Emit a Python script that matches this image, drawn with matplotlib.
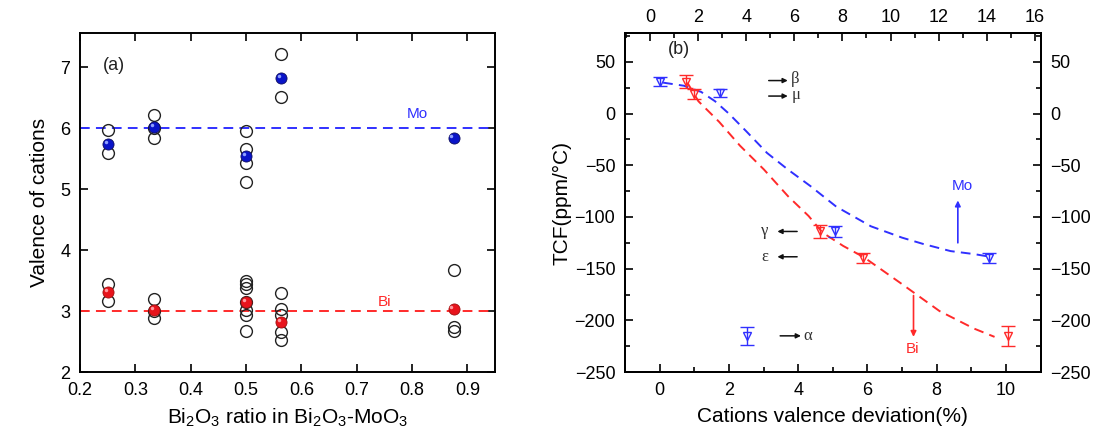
import matplotlib
matplotlib.use("Agg")
import matplotlib.pyplot as plt
from matplotlib.ticker import MultipleLocator
from matplotlib.transforms import offset_copy

plt.rcParams['font.family'] = ['Liberation Sans', 'DejaVu Sans']
plt.rcParams['mathtext.default'] = 'regular'

# ---------------- panel (a): cation valence vs Bi2O3 ratio ----------------
ratio = [0.25, 0.333, 0.5, 0.5625, 0.875]

mo_open = [[5.97, 5.60],
           [6.21, 6.00, 5.83],
           [5.95, 5.66, 5.42, 5.11],
           [7.21, 6.51],
           []]
mo_mean = [5.74, 6.02, 5.54, 6.82, 5.83]

bi_open = [[3.45, 3.17],
           [3.19, 3.00, 2.89],
           [3.50, 3.45, 3.37, 3.15, 3.01, 2.93, 2.67],
           [3.29, 3.03, 2.94, 2.65, 2.52],
           [3.68, 2.74, 2.68]]
bi_mean = [3.31, 3.02, 3.15, 2.82, 3.03]

mo_nominal = 6.0
bi_nominal = 3.0

# ---------------- panel (b): TCF vs valence deviation ----------------
mo_dev = [0.0, 1.75, 5.07, 9.5, 2.52]
mo_tcf = [31, 20, -114, -140, -215]
mo_err = [4, 4, 5, 5, 9]

bi_dev = [0.77, 1.0, 4.62, 5.87, 10.05]
bi_tcf = [31, 19, -114, -140, -215]
bi_err = [6, 5, 6, 5, 10]

mo_fit_x = [0.1, 0.7, 1.2, 1.6, 2.0, 2.5, 3.1, 3.7, 4.35, 5.1, 6.1, 7.0, 7.6, 8.4, 9.1, 9.45]
mo_fit_y = [30, 27, 21, 12, 0, -17, -38, -54, -70, -90, -109, -120, -126, -133, -136, -138]

bi_fit_x = [0.8, 1.12, 1.72, 2.32, 3.01, 3.71, 4.3, 4.7, 5.3, 5.9, 7.0, 8.08, 9.08, 9.67]
bi_fit_y = [30, 12, -8, -31, -54, -80, -99, -115, -128, -139, -165, -191, -208, -216]

phase_labels = ['β', 'μ', 'γ', 'ε', 'α']

BLUE = '#3030ff'
RED = '#ff2a2a'
BLUE_DOT = '#0a14c8'
RED_DOT = '#e8141c'

fig = plt.figure(figsize=(11.04, 4.45), dpi=100)
axa = fig.add_axes([0.0725, 0.164, 0.3759, 0.7618])
axb = fig.add_axes([0.5661, 0.164, 0.3765, 0.7618])

TICKFS = 13
LABELFS = 15

def frame(ax):
    for s in ax.spines.values():
        s.set_linewidth(1.4)

# ---- (a)
axa.axhline(mo_nominal, color=BLUE, lw=1.4, dashes=(5, 3.2))
axa.axhline(bi_nominal, color=RED, lw=1.4, dashes=(5, 3.2))

for x, vals in zip(ratio, mo_open):
    axa.plot([x] * len(vals), vals, 'o', ms=8.5, mfc='none', mec='#222222', mew=1.0, ls='none')
for x, vals in zip(ratio, bi_open):
    axa.plot([x] * len(vals), vals, 'o', ms=8.5, mfc='none', mec='#222222', mew=1.0, ls='none')

axa.plot(ratio, mo_mean, 'o', ms=8, color=BLUE_DOT, mec='#101060', mew=0.6, ls='none')
axa.plot(ratio, bi_mean, 'o', ms=8, color=RED_DOT, mec='#a01010', mew=0.6, ls='none')
# small highlight on the filled averages
hl = offset_copy(axa.transData, fig=fig, x=-1.5, y=1.5, units='points')
axa.plot(ratio, mo_mean, 'o', ms=2.5, color='#8fa0ff', mec='none', ls='none', transform=hl)
axa.plot(ratio, bi_mean, 'o', ms=2.5, color='#ff9aa0', mec='none', ls='none', transform=hl)

axa.set_xlim(0.2, 0.95)
axa.set_ylim(2, 7.56)
axa.xaxis.set_major_locator(MultipleLocator(0.1))
axa.yaxis.set_major_locator(MultipleLocator(1))
axa.tick_params(direction='in', top=True, right=True, length=5.5, width=1.2,
                labelsize=TICKFS, pad=7)
axa.set_xlabel('Bi$_2$O$_3$ ratio in Bi$_2$O$_3$-MoO$_3$', fontsize=LABELFS, labelpad=6)
axa.set_ylabel('Valence of cations', fontsize=LABELFS, labelpad=8)
axa.text(0.262, 7.03, '(a)', fontsize=13, ha='center', va='center', color='#222222')
axa.text(0.81, 6.23, 'Mo', fontsize=11, ha='center', va='center', color=BLUE)
axa.text(0.75, 3.15, 'Bi', fontsize=11, ha='center', va='center', color=RED)
frame(axa)

# ---- (b)
axb.plot(mo_fit_x, mo_fit_y, color=BLUE, lw=1.4, dashes=(5, 3.2))
axb.plot(bi_fit_x, bi_fit_y, color=RED, lw=1.4, dashes=(5, 3.2))

axb.errorbar(mo_dev, mo_tcf, yerr=mo_err, fmt='v', ms=5.5, mfc='none', mec=BLUE, mew=1.0,
             ecolor=BLUE, elinewidth=1.0, capsize=5, capthick=1.2, ls='none')
axb.errorbar(bi_dev, bi_tcf, yerr=bi_err, fmt='v', ms=5.5, mfc='none', mec=RED, mew=1.0,
             ecolor=RED, elinewidth=1.0, capsize=5, capthick=1.2, ls='none')

axb.set_xlim(-1, 11)
axb.set_ylim(-250, 78)
axb.xaxis.set_major_locator(MultipleLocator(2))
axb.xaxis.set_minor_locator(MultipleLocator(1))
axb.yaxis.set_major_locator(MultipleLocator(50))
axb.yaxis.set_minor_locator(MultipleLocator(25))
axb.tick_params(which='both', direction='in', right=True, labelright=True, width=1.2,
                labelsize=TICKFS, pad=7)
axb.tick_params(which='major', length=5.5)
axb.tick_params(which='minor', length=3.5)
axb.set_xlabel('Cations valence deviation(%)', fontsize=LABELFS, labelpad=6)
axb.set_ylabel('TCF(ppm/°C)', fontsize=LABELFS, labelpad=2)

top = axb.twiny()
top.set_xlim(-1.04, 16.24)
top.xaxis.set_major_locator(MultipleLocator(2))
top.xaxis.set_minor_locator(MultipleLocator(1))
top.tick_params(which='both', direction='in', width=1.2, labelsize=TICKFS, pad=5)
top.tick_params(which='major', length=5.5)
top.tick_params(which='minor', length=3.5)
frame(top)
frame(axb)

axb.text(0.55, 62, '(b)', fontsize=13, ha='center', va='center', color='#222222')

arrow_k = dict(arrowstyle='-|>', color='#111111', lw=1.1, mutation_scale=7,
               shrinkA=0, shrinkB=0)
serif = dict(family=['Liberation Serif', 'DejaVu Serif'], fontsize=12, color='#333333',
             va='center')
# right-pointing arrows to beta and mu
for lab, y in zip(phase_labels[:2], [32, 17]):
    axb.annotate('', xy=(3.7, y), xytext=(3.15, y), arrowprops=arrow_k)
    axb.text(3.8, y + 1.5, lab, ha='left', **serif)
# gamma and epsilon with left-pointing arrows
for lab, y in zip(phase_labels[2:4], [-114, -138.5]):
    axb.annotate('', xy=(3.4, y), xytext=(3.97, y), arrowprops=arrow_k)
    axb.text(3.15, y, lab, ha='right', **serif)
# alpha
axb.annotate('', xy=(4.08, -215), xytext=(3.48, -215), arrowprops=arrow_k)
axb.text(4.15, -215, phase_labels[4], ha='left', **serif)

axb.annotate('', xy=(8.61, -84), xytext=(8.61, -125),
             arrowprops=dict(arrowstyle='-|>', color=BLUE, lw=1.2, mutation_scale=8,
                             shrinkA=0, shrinkB=0))
axb.text(8.73, -70, 'Mo', fontsize=11, ha='center', va='center', color=BLUE)
axb.annotate('', xy=(7.33, -216), xytext=(7.33, -176),
             arrowprops=dict(arrowstyle='-|>', color=RED, lw=1.2, mutation_scale=8,
                             shrinkA=0, shrinkB=0))
axb.text(7.31, -228, 'Bi', fontsize=11, ha='center', va='center', color=RED)

fig.savefig('out.png', dpi=100)
